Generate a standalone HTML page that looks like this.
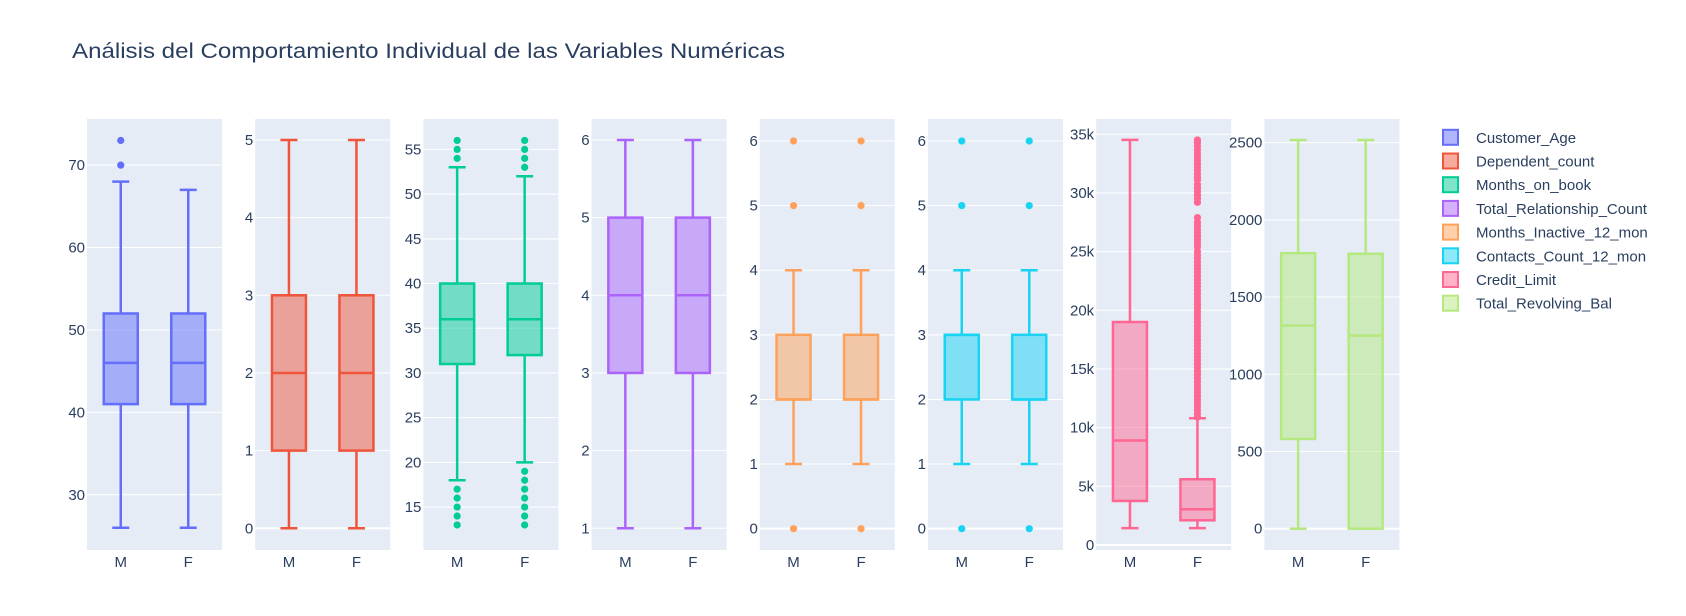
<!DOCTYPE html>
<html><head><meta charset="utf-8"><style>
body{margin:0;background:#fff;}
svg{display:block;font-family:"Liberation Sans",sans-serif;}
</style></head><body>
<svg id="chart" width="1686" height="616" viewBox="0 0 1686 616" xmlns="http://www.w3.org/2000/svg">
<rect width="1686" height="616" fill="#fff"/>
<text x="72" y="58" font-size="21" fill="#2a3f5f" textLength="713" lengthAdjust="spacingAndGlyphs">Análisis del Comportamiento Individual de las Variables Numéricas</text>
<g id="plots"></g>
<g id="legend"></g>
</svg>
<script>
const seriesNames = ["Customer_Age","Dependent_count","Months_on_book","Total_Relationship_Count","Months_Inactive_12_mon","Contacts_Count_12_mon","Credit_Limit","Total_Revolving_Bal"];
const categories = ["M","F"];
// [lower whisker, q1, median, q3, upper whisker] for M and F
const statsM = [
  [26,41,46,52,68],[0,1,2,3,5],[18,31,36,40,53],[1,3,4,5,6],
  [1,2,2,3,4],[1,2,3,3,4],[1438,3750,8900,19000,34516],[0,581,1315,1784,2517]
];
const statsF = [
  [26,41,46,52,67],[0,1,2,3,5],[20,32,36,40,52],[1,3,4,5,6],
  [1,2,2,3,4],[1,2,2,3,4],[1438,2100,3040,5600,10800],[0,0,1250,1780,2517]
];
const outliersM = [
  [70,73],[],[13,14,15,16,17,54,55,56],[],[0,5,6],[0,5,6],[],[]
];
const creditOutliersF = [10900,11200,11500,11800,12100,12400,12700,13000,13300,13600,13900,14200,14500,14800,15100,15400,15700,16000,16300,16600,16900,17200,17500,17800,18100,18400,18700,19000,19300,19600,19900,20200,20500,20800,21100,21400,21700,22000,22300,22600,22900,23200,23500,23800,24100,24400,24700,25000,25400,25700,26000,26300,26600,26900,27200,27500,27900,29200,29500,29800,30100,30400,30700,31100,31300,31600,31900,32200,32500,32800,33100,33400,33700,34000,34300,34516];
const outliersF = [
  [],[],[13,14,15,16,17,18,19,53,54,55,56],[],[0,5,6],[0,5,6],creditOutliersF,[]
];
const yMins = [23.3,-0.28,10.2,0.72,-0.33,-0.33,-430,-138];
const yMaxs = [75.6,5.27,58.4,6.27,6.34,6.34,36300,2653];
const tickValues = [
  [30,40,50,60,70],[0,1,2,3,4,5],[15,20,25,30,35,40,45,50,55],[1,2,3,4,5,6],
  [0,1,2,3,4,5,6],[0,1,2,3,4,5,6],[0,5000,10000,15000,20000,25000,30000,35000],[0,500,1000,1500,2000,2500]
];
const tickLabels = [
  ["30","40","50","60","70"],["0","1","2","3","4","5"],["15","20","25","30","35","40","45","50","55"],["1","2","3","4","5","6"],
  ["0","1","2","3","4","5","6"],["0","1","2","3","4","5","6"],["0","5k","10k","15k","20k","25k","30k","35k"],["0","500","1000","1500","2000","2500"]
];
const colors = ["#636efa","#EF553B","#00cc96","#ab63fa","#FFA15A","#19d3f3","#FF6692","#B6E880"];

const NS="http://www.w3.org/2000/svg";
const plotTop=119, plotBot=550, plotW=135, x0=87, step=168.2;
function mk(tag, attrs, parent){const e=document.createElementNS(NS,tag);for(const k in attrs)e.setAttribute(k,attrs[k]);parent.appendChild(e);return e;}
const root=document.getElementById('plots');
seriesNames.forEach((name,i)=>{
  const left=x0+i*step;
  const g=mk('g',{},root);
  
  
  const y=v=>plotBot-(v-yMins[i])/(yMaxs[i]-yMins[i])*(plotBot-plotTop);
  const xc=c=>left+plotW*(c+0.5)/2;
  const bg=mk('rect',{x:left,y:plotTop,width:plotW,height:plotBot-plotTop,fill:"#E5ECF6"},g);
  
  
  tickValues[i].forEach((t,j)=>{
    const ln=mk('line',{x1:left,x2:left+plotW,y1:y(t),y2:y(t),stroke:"#fff","stroke-width":t===0?2:1},g);
    
    
    const tx=mk('text',{x:left-2,y:y(t)+5,"text-anchor":"end","font-size":15,fill:"#2a3f5f"},g);
    tx.textContent=tickLabels[i][j];
    
    
  });
  const col=colors[i];
  [statsM[i],statsF[i]].forEach((s,c)=>{
    const cx=xc(c), bw=34, cw=17;
    const bx=mk('g',{},g);
    
    
    mk('line',{x1:cx,x2:cx,y1:y(s[0]),y2:y(s[1]),stroke:col,"stroke-width":2.5},bx);
    mk('line',{x1:cx,x2:cx,y1:y(s[3]),y2:y(s[4]),stroke:col,"stroke-width":2.5},bx);
    mk('line',{x1:cx-cw/2,x2:cx+cw/2,y1:y(s[0]),y2:y(s[0]),stroke:col,"stroke-width":2.5},bx);
    mk('line',{x1:cx-cw/2,x2:cx+cw/2,y1:y(s[4]),y2:y(s[4]),stroke:col,"stroke-width":2.5},bx);
    mk('rect',{x:cx-bw/2,y:y(s[3]),width:bw,height:Math.max(0,y(s[1])-y(s[3])),fill:col,"fill-opacity":0.5,stroke:col,"stroke-width":2.5},bx);
    mk('line',{x1:cx-bw/2,x2:cx+bw/2,y1:y(s[2]),y2:y(s[2]),stroke:col,"stroke-width":2.5},bx);
    const outs=(c===0?outliersM:outliersF)[i];
    outs.forEach(v=>{
      const d=mk('circle',{cx:cx,cy:y(v),r:3.6,fill:col},bx);
      
      
    });
    const lbl=mk('text',{x:cx,y:567,"text-anchor":"middle","font-size":15,fill:"#2a3f5f"},g);
    lbl.textContent=categories[c];
    
    
  });
});
const leg=document.getElementById('legend');
seriesNames.forEach((name,i)=>{
  const cy=137.3+23.7*i;
  const e=mk('g',{},leg);
  
  
  mk('rect',{x:1443,y:cy-7.5,width:15,height:15,fill:colors[i],"fill-opacity":0.5,stroke:colors[i],"stroke-width":2},e);
  const t=mk('text',{x:1476,y:cy+5.5,"font-size":15,fill:"#2a3f5f"},e);
  t.textContent=name;
});
</script>
</body></html>
